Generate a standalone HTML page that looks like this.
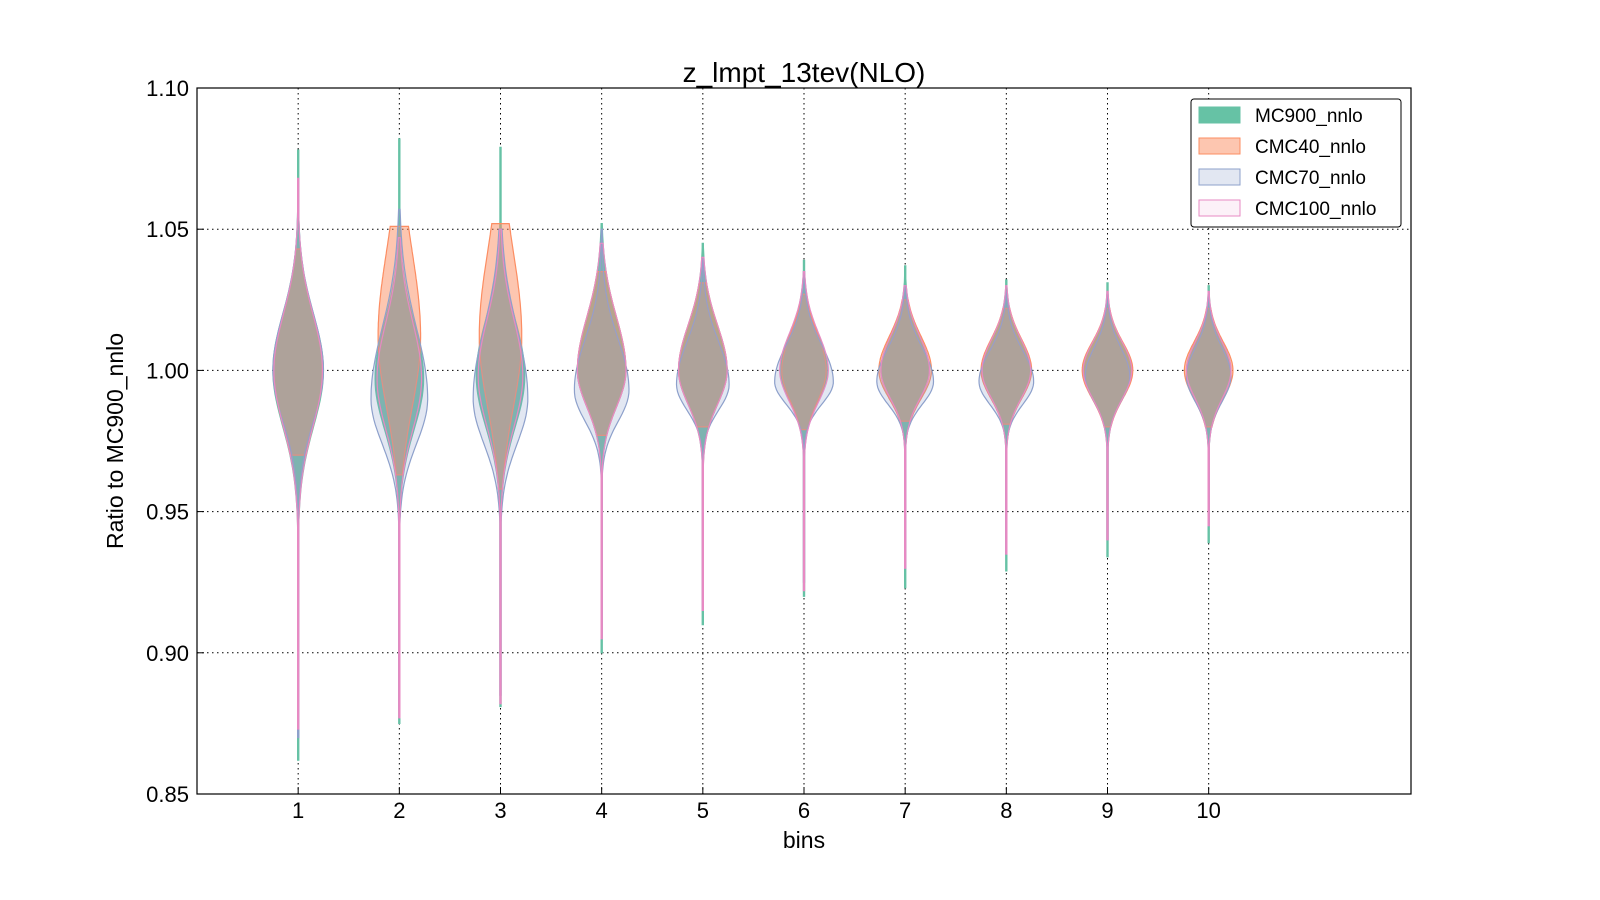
<!DOCTYPE html>
<html><head><meta charset="utf-8"><style>
html,body{margin:0;padding:0;background:#fff;}
svg{display:block;font-family:"Liberation Sans","DejaVu Sans",sans-serif;}
</style></head><body>
<svg id="chart" width="1600" height="900" viewBox="0 0 1600 900" xmlns="http://www.w3.org/2000/svg">
<text x="804" y="82" font-size="28" text-anchor="middle">z_lmpt_13tev(NLO)</text>
<g id="grid"></g>
<g id="violins"></g>
<rect x="197" y="88" width="1214" height="706" fill="none" stroke="#000" stroke-width="1.2"/>
<g id="ticks"></g>
<text x="804" y="848" font-size="23" text-anchor="middle">bins</text>
<text transform="translate(123,441) rotate(-90)" font-size="23" text-anchor="middle">Ratio to MC900_nnlo</text>
<g>
<rect x="1191" y="99" width="210" height="128" rx="3" fill="#fff" stroke="#000" stroke-width="1"/>
<g><rect x="1199" y="107" width="41" height="16" fill="#66c2a5" stroke="#66c2a5"/><text x="1255" y="122" font-size="19">MC900_nnlo</text></g>
<g><rect x="1199" y="138" width="41" height="16" fill="#fc8d62" fill-opacity="0.5" stroke="#fc8d62"/><text x="1255" y="153" font-size="19">CMC40_nnlo</text></g>
<g><rect x="1199" y="169" width="41" height="16" fill="#8da0cb" fill-opacity="0.25" stroke="#8da0cb"/><text x="1255" y="184" font-size="19">CMC70_nnlo</text></g>
<g><rect x="1199" y="200" width="41" height="16" fill="#e78ac3" fill-opacity="0.12" stroke="#e78ac3"/><text x="1255" y="215" font-size="19">CMC100_nnlo</text></g>
</g>
</svg>
<script>
const bins = [1,2,3,4,5,6,7,8,9,10];
const yTicks = [0.85,0.90,0.95,1.00,1.05,1.10];
const yTickLabels = ["0.85","0.90","0.95","1.00","1.05","1.10"];
// MC900_nnlo
const mcLo = [.862,.875,.881,.900,.910,.920,.923,.929,.934,.939];
const mcHi = [1.078,1.082,1.079,1.052,1.045,1.039,1.037,1.032,1.031,1.030];
const mcPeak = [1.0,.997,.998,1.0,1.0,1.0,1.0,1.0,1.0,1.0];
const mcW = [.25,.24,.24,.24,.24,.23,.24,.24,.24,.22];
const mcSdUp = [.020,.020,.020,.019,.016,.013,.012,.011,.010,.010];
const mcSdDn = [.020,.018,.018,.013,.012,.011,.010,.010,.010,.010];
// CMC40_nnlo
const c40Lo = [.970,.963,.958,.977,.980,.979,.982,.981,.980,.980];
const c40Hi = [1.043,1.051,1.052,1.035,1.031,1.027,1.025,1.022,1.022,1.022];
const c40Peak = [1.0,1.012,1.012,1.0,1.0,1.0,1.0,1.0,1.0,1.0];
const c40W = [.24,.21,.21,.24,.24,.22,.26,.25,.25,.24];
const c40SdUp = [.020,.030,.030,.019,.016,.013,.012,.011,.010,.010];
const c40SdDn = [.020,.025,.025,.013,.012,.011,.010,.010,.010,.010];
// CMC70_nnlo
const c70Lo = [.870,.880,.885,.905,.915,.925,.930,.935,.940,.945];
const c70Hi = [1.060,1.057,1.050,1.050,1.040,1.035,1.030,1.028,1.027,1.027];
const c70Peak = [1.0,.99,.99,.993,.995,.996,.996,.996,.998,.998];
const c70W = [.25,.28,.27,.27,.26,.29,.28,.27,.22,.22];
const c70SdUp = [.020,.025,.025,.018,.015,.013,.012,.011,.010,.010];
const c70SdDn = [.018,.016,.016,.011,.009,.008,.008,.008,.009,.009];
// CMC100_nnlo
const c100Lo = [.873,.877,.882,.905,.915,.922,.930,.935,.940,.945];
const c100Hi = [1.068,1.047,1.050,1.045,1.040,1.035,1.030,1.030,1.028,1.028];
const c100Peak = [1.0,.997,.998,1.0,1.0,1.0,1.0,1.0,1.0,1.0];
const c100W = [.24,.22,.22,.24,.24,.24,.24,.24,.24,.22];
const c100SdUp = [.020,.020,.020,.019,.016,.013,.012,.011,.010,.010];
const c100SdDn = [.020,.018,.018,.013,.012,.011,.010,.010,.010,.010];

const NS = "http://www.w3.org/2000/svg";
const X0 = 197, X1 = 1411, Y0 = 88, Y1 = 794;
function xScale(v){ return X0 + (v - 0) / 12 * (X1 - X0); }
function yScale(v){ return Y1 - (v - 0.85) / 0.25 * (Y1 - Y0); }
const unit = (X1 - X0) / 12;

const grid = document.getElementById('grid');
const ticks = document.getElementById('ticks');
yTicks.forEach((t, i) => {
  const y = yScale(t);
  if (i > 0 && i < yTicks.length - 1) {
    const l = document.createElementNS(NS, 'line');
    
    
    l.setAttribute('x1', X0); l.setAttribute('x2', X1); l.setAttribute('y1', y); l.setAttribute('y2', y);
    l.setAttribute('stroke', '#000'); l.setAttribute('stroke-width', '1'); l.setAttribute('stroke-dasharray', '1.5,3.5');
    grid.appendChild(l);
  }
  const tk = document.createElementNS(NS, 'line');
  
  
  tk.setAttribute('x1', X0); tk.setAttribute('x2', X0 + 7); tk.setAttribute('y1', y); tk.setAttribute('y2', y);
  tk.setAttribute('stroke', '#000');
  ticks.appendChild(tk);
  const tx = document.createElementNS(NS, 'text');
  
  
  tx.setAttribute('x', X0 - 8); tx.setAttribute('y', y + 8);
  tx.setAttribute('font-size', '22'); tx.setAttribute('text-anchor', 'end');
  tx.textContent = yTickLabels[i];
  ticks.appendChild(tx);
});
bins.forEach(b => {
  const x = xScale(b);
  const l = document.createElementNS(NS, 'line');
  
  
  l.setAttribute('x1', x); l.setAttribute('x2', x); l.setAttribute('y1', Y0); l.setAttribute('y2', Y1);
  l.setAttribute('stroke', '#000'); l.setAttribute('stroke-width', '1'); l.setAttribute('stroke-dasharray', '1.5,3.5');
  grid.appendChild(l);
  const tk = document.createElementNS(NS, 'line');
  
  
  tk.setAttribute('x1', x); tk.setAttribute('x2', x); tk.setAttribute('y1', Y1); tk.setAttribute('y2', Y1 - 7);
  tk.setAttribute('stroke', '#000');
  ticks.appendChild(tk);
  const tx = document.createElementNS(NS, 'text');
  
  
  tx.setAttribute('x', x); tx.setAttribute('y', Y1 + 24);
  tx.setAttribute('font-size', '22'); tx.setAttribute('text-anchor', 'middle');
  tx.textContent = String(b);
  ticks.appendChild(tx);
});

const series = [
  {name:'mc900', lo:mcLo, hi:mcHi, peak:mcPeak, w:mcW, up:mcSdUp, dn:mcSdDn, color:'#66c2a5', op:1},
  {name:'cmc40', lo:c40Lo, hi:c40Hi, peak:c40Peak, w:c40W, up:c40SdUp, dn:c40SdDn, color:'#fc8d62', op:0.5},
  {name:'cmc70', lo:c70Lo, hi:c70Hi, peak:c70Peak, w:c70W, up:c70SdUp, dn:c70SdDn, color:'#8da0cb', op:0.25},
  {name:'cmc100', lo:c100Lo, hi:c100Hi, peak:c100Peak, w:c100W, up:c100SdUp, dn:c100SdDn, color:'#e78ac3', op:0.12}
];
const vg = document.getElementById('violins');
series.forEach(s => {
  bins.forEach((b, i) => {
    const cx = xScale(b);
    const N = 100, pts = [];
    for (let k = 0; k <= N; k++) {
      const v = s.lo[i] + (s.hi[i] - s.lo[i]) * k / N;
      const sd = v > s.peak[i] ? s.up[i] : s.dn[i];
      const z = (v - s.peak[i]) / sd;
      const hw = Math.max(s.w[i] * Math.exp(-0.5 * z * z), 0.006) * unit;
      pts.push([v, hw]);
    }
    let d = '';
    pts.forEach((p, k) => { d += (k ? 'L' : 'M') + (cx + p[1]).toFixed(1) + ',' + yScale(p[0]).toFixed(1); });
    for (let k = pts.length - 1; k >= 0; k--) { d += 'L' + (cx - pts[k][1]).toFixed(1) + ',' + yScale(pts[k][0]).toFixed(1); }
    d += 'Z';
    const p = document.createElementNS(NS, 'path');
    
    
    p.setAttribute('d', d);
    p.setAttribute('fill', s.color); p.setAttribute('fill-opacity', s.op);
    p.setAttribute('stroke', s.color); p.setAttribute('stroke-width', '1.2');
    vg.appendChild(p);
  });
});
</script>
</body></html>
